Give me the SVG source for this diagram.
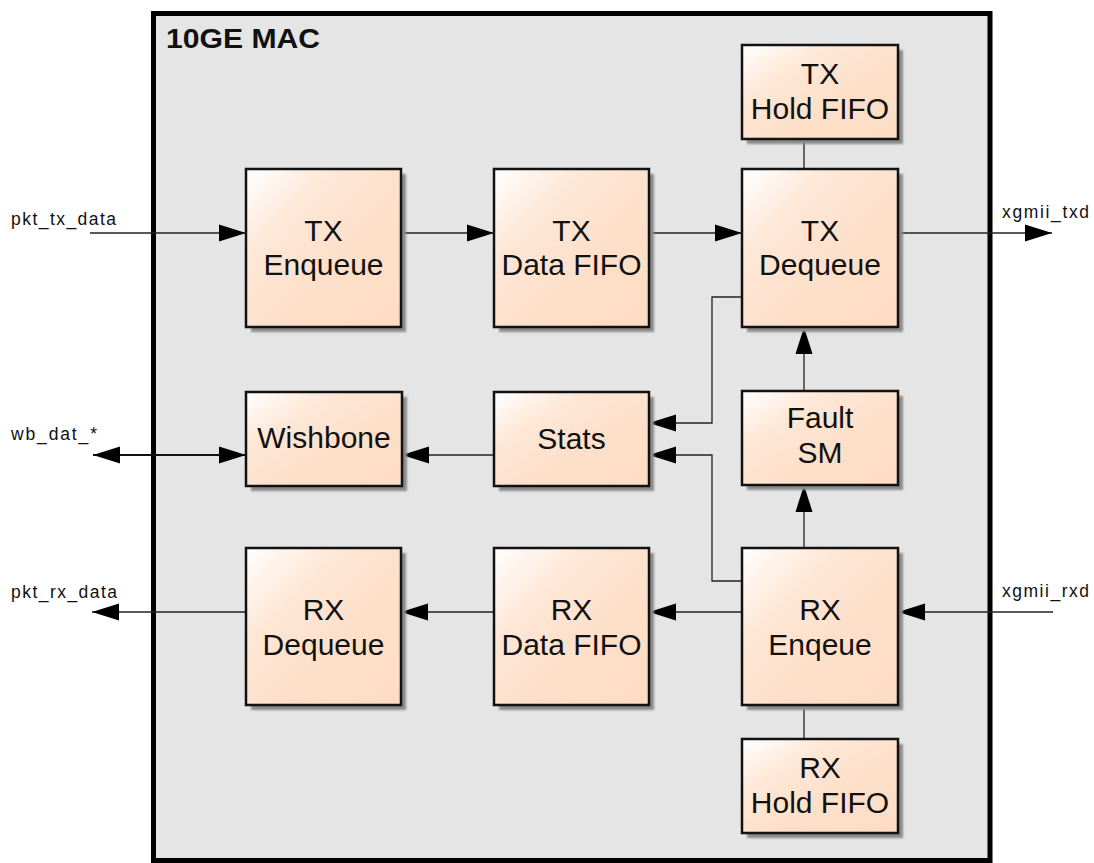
<svg xmlns="http://www.w3.org/2000/svg" width="1094" height="863" viewBox="0 0 1094 863">
<defs>
<linearGradient id="nodeFill" x1="0" y1="0" x2="1" y2="1">
<stop offset="0" stop-color="#ffffff"/>
<stop offset="0.3" stop-color="#fee7d6"/>
<stop offset="0.6" stop-color="#fde0ca"/>
<stop offset="1" stop-color="#fddcc4"/>
</linearGradient>
<filter id="soft" x="-10%" y="-10%" width="130%" height="130%">
<feGaussianBlur stdDeviation="1"/>
</filter>
<marker id="arr" markerWidth="27" markerHeight="18" refX="27" refY="9" orient="auto-start-reverse" markerUnits="userSpaceOnUse">
<path d="M0,0.5 L27,9 L0,17.5 z" fill="#000"/>
</marker>
</defs>
<style>
.frame{fill:#e5e5e5;stroke:#000;stroke-width:5}
.title{font-family:"Liberation Sans",Arial,sans-serif;font-weight:bold;font-size:28px;fill:#111}
.shadow{fill:#8a8a8a;filter:url(#soft)}
.box{fill:url(#nodeFill);stroke:#111;stroke-width:2.5}
.lbl{font-family:"Liberation Sans",Arial,sans-serif;font-size:30px;fill:#111;text-anchor:middle}
.sig{font-family:"Liberation Sans",Arial,sans-serif;font-size:17.5px;fill:#111}
.wire{fill:none;stroke:#222;stroke-width:1.3}
.arrow{marker-end:url(#arr)}
.bus{fill:none;stroke:#111;stroke-width:2.2;marker-start:url(#arr);marker-end:url(#arr)}
</style>
<rect width="1094" height="863" fill="#ffffff"/>
<g id="mac">
<rect class="frame" x="153.5" y="13.5" width="836.5" height="847"/>
<text class="title" x="166" y="48" textLength="154" lengthAdjust="spacingAndGlyphs">10GE MAC</text>
</g>

<g id="connectors">
<path class="wire arrow" d="M90,233 H246"/>
<path class="wire arrow" d="M401,233 H494"/>
<path class="wire arrow" d="M649,233 H742"/>
<path class="wire arrow" d="M898,233 H1052"/>
<path class="wire" d="M804,139 V169"/>
<path class="wire arrow" d="M804,391 V327"/>
<path class="wire arrow" d="M804,548 V485"/>
<path class="wire arrow" d="M742,297 H712 V423 H649"/>
<path class="wire arrow" d="M742,581 H712 V455 H649"/>
<path class="wire arrow" d="M494,455 H402"/>
<path class="bus" d="M93,455 H246"/>
<path class="wire arrow" d="M742,612 H649"/>
<path class="wire arrow" d="M494,612 H401"/>
<path class="wire arrow" d="M246,612 H92"/>
<path class="wire arrow" d="M1053,612 H898"/>
<path class="wire" d="M804,705 V739"/>
</g>

<g id="signals">
<text class="sig" x="11" y="225" textLength="105" lengthAdjust="spacing">pkt_tx_data</text>
<text class="sig" x="1002" y="218" textLength="87" lengthAdjust="spacing">xgmii_txd</text>
<text class="sig" x="11" y="440" textLength="86" lengthAdjust="spacing">wb_dat_*</text>
<text class="sig" x="11" y="598" textLength="106" lengthAdjust="spacing">pkt_rx_data</text>
<text class="sig" x="1002" y="597" textLength="87" lengthAdjust="spacing">xgmii_rxd</text>
</g>

<g id="tx_enqueue">
<rect class="shadow" x="251" y="174" width="155" height="158"/>
<rect class="box" x="246" y="169" width="155" height="158"/>
<text class="lbl" x="323.5" y="241">TX</text>
<text class="lbl" x="323.5" y="275">Enqueue</text>
</g>
<g id="tx_data_fifo">
<rect class="shadow" x="499" y="174" width="155" height="158"/>
<rect class="box" x="494" y="169" width="155" height="158"/>
<text class="lbl" x="571.5" y="241">TX</text>
<text class="lbl" x="571.5" y="275">Data FIFO</text>
</g>
<g id="tx_dequeue">
<rect class="shadow" x="747" y="174" width="156" height="158"/>
<rect class="box" x="742" y="169" width="156" height="158"/>
<text class="lbl" x="820" y="241">TX</text>
<text class="lbl" x="820" y="275">Dequeue</text>
</g>
<g id="tx_hold_fifo">
<rect class="shadow" x="747" y="50" width="156" height="94"/>
<rect class="box" x="742" y="45" width="156" height="94"/>
<text class="lbl" x="820" y="84">TX</text>
<text class="lbl" x="820" y="119">Hold FIFO</text>
</g>
<g id="wishbone">
<rect class="shadow" x="251" y="397" width="156" height="94"/>
<rect class="box" x="246" y="392" width="156" height="94"/>
<text class="lbl" x="324" y="448">Wishbone</text>
</g>
<g id="stats">
<rect class="shadow" x="499" y="397" width="155" height="94"/>
<rect class="box" x="494" y="392" width="155" height="94"/>
<text class="lbl" x="571.5" y="449">Stats</text>
</g>
<g id="fault_sm">
<rect class="shadow" x="747" y="396" width="156" height="94"/>
<rect class="box" x="742" y="391" width="156" height="94"/>
<text class="lbl" x="820" y="428">Fault</text>
<text class="lbl" x="820" y="463">SM</text>
</g>
<g id="rx_dequeue">
<rect class="shadow" x="251" y="553" width="155" height="157"/>
<rect class="box" x="246" y="548" width="155" height="157"/>
<text class="lbl" x="323.5" y="620">RX</text>
<text class="lbl" x="323.5" y="655">Dequeue</text>
</g>
<g id="rx_data_fifo">
<rect class="shadow" x="499" y="553" width="155" height="157"/>
<rect class="box" x="494" y="548" width="155" height="157"/>
<text class="lbl" x="571.5" y="620">RX</text>
<text class="lbl" x="571.5" y="655">Data FIFO</text>
</g>
<g id="rx_enqeue">
<rect class="shadow" x="747" y="553" width="156" height="157"/>
<rect class="box" x="742" y="548" width="156" height="157"/>
<text class="lbl" x="820" y="620">RX</text>
<text class="lbl" x="820" y="655">Enqeue</text>
</g>
<g id="rx_hold_fifo">
<rect class="shadow" x="747" y="744" width="156" height="94"/>
<rect class="box" x="742" y="739" width="156" height="94"/>
<text class="lbl" x="820" y="778">RX</text>
<text class="lbl" x="820" y="813">Hold FIFO</text>
</g>
</svg>
